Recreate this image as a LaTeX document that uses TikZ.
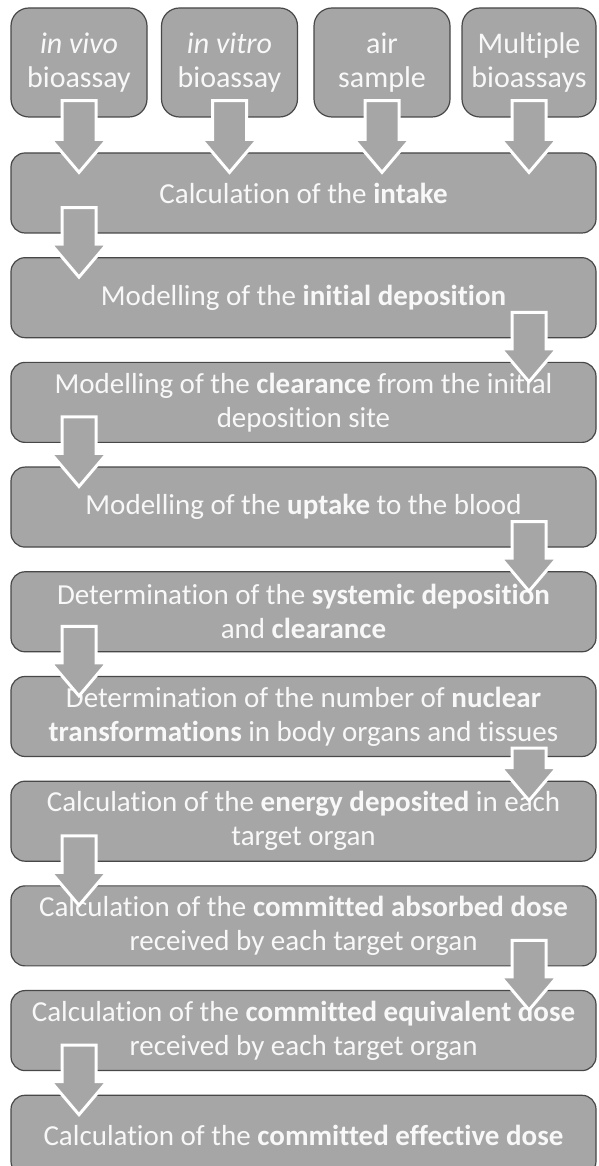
\documentclass[tikz,border=0pt]{standalone}
\usepackage{fontspec}
\setmainfont{Carlito}[Ligatures=NoCommon]
\usetikzlibrary{positioning, calc}
\definecolor{boxgray}{RGB}{166,166,166}
\definecolor{edgegray}{RGB}{72,72,72}
\definecolor{textwhite}{RGB}{248,248,248}

% block arrow from one stage to the next, in the column of a top box
\newcommand{\stageArrow}[4]{%
  \coordinate (a1) at ($(#3.center |- #1.south)+(0,#4)$);
  \coordinate (a2) at ($(#3.center |- #2.north)+(0,-20)$);
  \draw[bigarrow] ($(a1)+(-17,0)$) -- ($(a1)+(17,0)$) -- ($(a2)+(17,33)$) -- ($(a2)+(28,33)$)
    -- (a2) -- ($(a2)+(-28,33)$) -- ($(a2)+(-17,33)$) -- cycle;
}

\begin{document}
\begin{tikzpicture}[x=1pt, y=1pt,
    srcbox/.style={rectangle, draw=edgegray, fill=boxgray, rounded corners=18pt, line width=1.2pt, text=textwhite, minimum width=136pt, minimum height=109pt, inner xsep=1pt, align=center, font=\fontsize{30}{34}\selectfont},
    stagebox/.style={rectangle, draw=edgegray, fill=boxgray, rounded corners=14pt, line width=1.2pt, text=textwhite, minimum width=585pt, minimum height=80pt, inner xsep=1pt, align=center, font=\fontsize{29}{34}\selectfont},
    bigarrow/.style={fill=boxgray, draw=white, line width=3pt, line join=miter}
]
\useasboundingbox (0,0) rectangle (598,1166);

% sources
\node[srcbox] (vivo)  at (79,1103.5)  {\textit{in vivo}\\bioassay};
\node[srcbox] (vitro) at (229.5,1103.5) {\textit{in vitro}\\bioassay};
\node[srcbox] (air)   at (382,1103.5) {air\\sample};
\node[srcbox, minimum width=134pt] (multi) at (529,1103.5) {Multiple\\bioassays};

% stages
\node[stagebox] (intake) at (303.5,973) {Calculation of the \textbf{intake}};
\node[stagebox, below=23.5pt of intake]  (initdep)  {Modelling of the \textbf{initial deposition}};
\node[stagebox, below=23.5pt of initdep]  (clear)    {Modelling of the \textbf{clearance} from the initial\\deposition site};
\node[stagebox, below=23.5pt of clear]    (uptake)   {Modelling of the \textbf{uptake} to the blood};
\node[stagebox, below=23.5pt of uptake]   (systemic) {Determination of the \textbf{systemic deposition}\\and \textbf{clearance}};
\node[stagebox, below=23.5pt of systemic] (nuclear)  {Determination of the number of \textbf{nuclear}\\\textbf{transformations} in body organs and tissues};
\node[stagebox, below=23.5pt of nuclear]  (energy)   {Calculation of the \textbf{energy deposited} in each\\target organ};
\node[stagebox, below=23.5pt of energy]   (absorbed) {Calculation of the \textbf{committed absorbed dose}\\received by each target organ};
\node[stagebox, below=23.5pt of absorbed] (equiv)    {Calculation of the \textbf{committed equivalent dose}\\received by each target organ};
\node[stagebox, below=23.5pt of equiv]    (effective){Calculation of the \textbf{committed effective dose}};

% arrows
\stageArrow{vivo}{intake}{vivo}{17}
\stageArrow{vitro}{intake}{vitro}{17}
\stageArrow{air}{intake}{air}{17}
\stageArrow{multi}{intake}{multi}{17}
\stageArrow{intake}{initdep}{vivo}{26}
\stageArrow{initdep}{clear}{multi}{26}
\stageArrow{clear}{uptake}{vivo}{26}
\stageArrow{uptake}{systemic}{multi}{26}
\stageArrow{systemic}{nuclear}{vivo}{26}
\stageArrow{nuclear}{energy}{multi}{9}
\stageArrow{energy}{absorbed}{vivo}{26}
\stageArrow{absorbed}{equiv}{multi}{26}
\stageArrow{equiv}{effective}{vivo}{26}

\end{tikzpicture}
\end{document}
